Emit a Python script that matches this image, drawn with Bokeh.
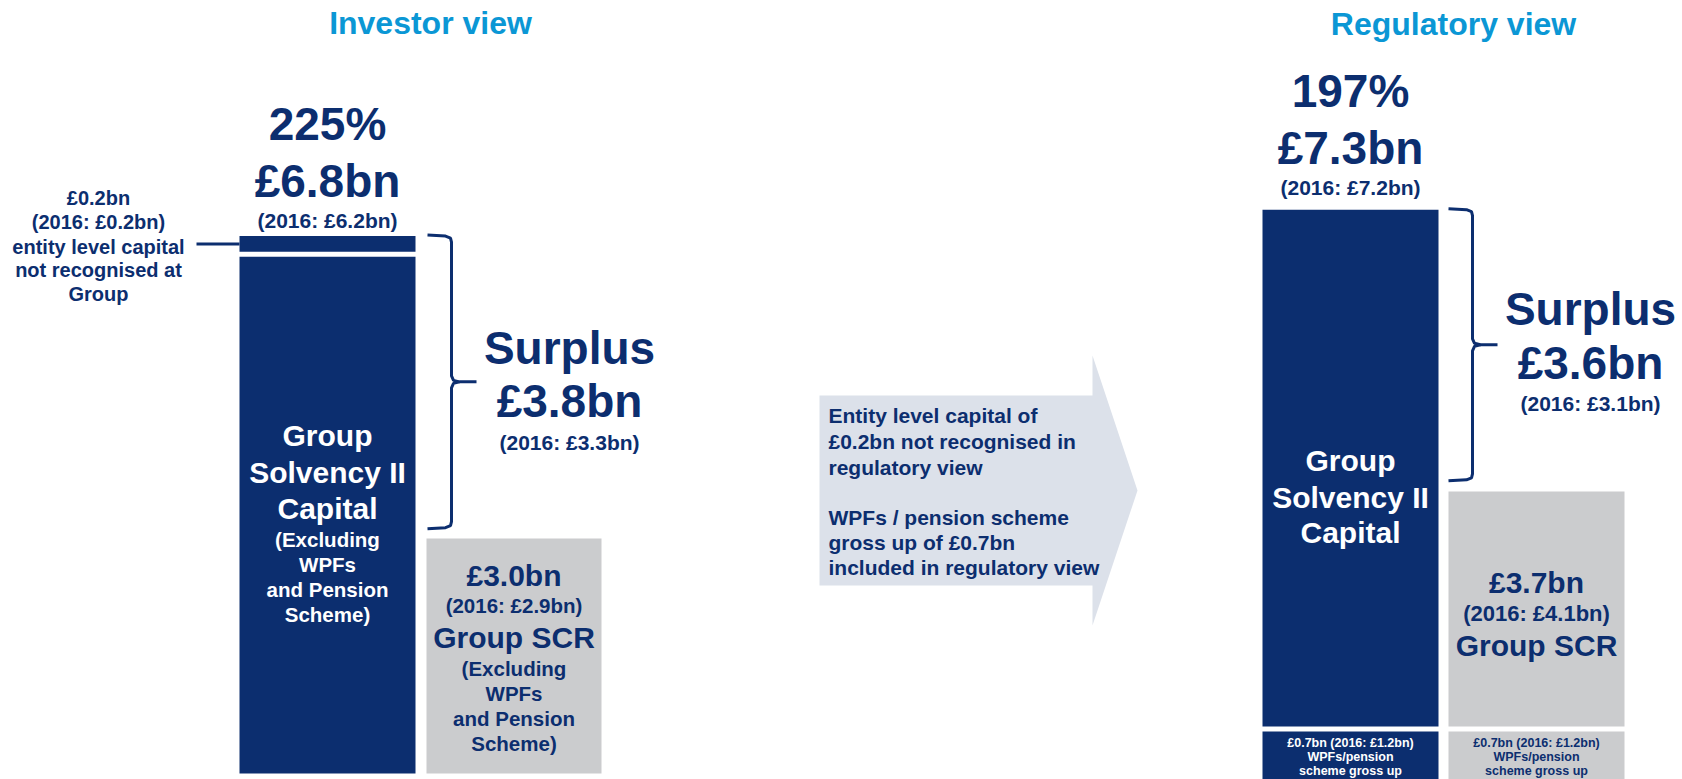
from bokeh.plotting import figure
from bokeh.models import Range1d
from bokeh.embed import file_html
from bokeh.resources import INLINE
from bokeh.core.properties import value

# ---------------- data (GBP bn) ----------------
views = ["Investor view", "Regulatory view"]
ratio_labels = ["225%", "197%"]
own_funds = [6.8, 7.3]
own_funds_2016 = [6.2, 7.2]
surplus = [3.8, 3.6]
surplus_2016 = [3.3, 3.1]
scr = [3.0, 3.7]
scr_2016 = [2.9, 4.1]
entity_capital = 0.2
entity_capital_2016 = 0.2
wpf_grossup = 0.7
wpf_grossup_2016 = 1.2

# ---------------- styling / layout ----------------
NAVY = "#0c2e6f"
GREY = "#cbccce"
BLUE = "#0b97d5"
ARROW = "#dce1ea"
FONT = value("Liberation Sans")
W, H = 1682, 779
PX = 78.3          # pixels per GBP bn
BASE = 773         # screen row of 0 bn for the investor stack
GAP = 5 / PX       # small white gap between stacked blocks


def yv(sy):
    """screen row -> data value (layout helper for annotations)"""
    return (BASE - sy) / PX


p = figure(width=W, height=H, x_range=Range1d(0, W),
           y_range=Range1d(yv(H), yv(0)),
           output_backend="svg", toolbar_location=None,
           x_axis_location=None, y_axis_location=None, min_border=0)
p.grid.visible = False
p.outline_line_color = None
p.background_fill_color = "white"


def txt(x, sy, s, size, color=NAVY, align="center"):
    p.text(x=[x], y=[yv(sy)], text=[s], text_font=FONT, text_font_style="bold",
           text_font_size=size, text_align=align, text_baseline="middle",
           text_color=color)


def brace(xl, xv, xt, top, bot):
    mid = (top + bot) / 2
    r = 6 / PX
    up = [(xl, top + 1 / PX), (xv - 6, top), (xv - 1, top - 2 / PX), (xv, top - r),
          (xv, mid + r), (xv + 2, mid + 1.5 / PX), (xv + 8, mid), (xt, mid)]
    dn = [(xv + 8, mid), (xv + 2, mid - 1.5 / PX), (xv, mid - r), (xv, bot + r),
          (xv - 1, bot + 2 / PX), (xv - 6, bot), (xl, bot - 1 / PX)]
    for seg in (up, dn):
        p.line([a for a, b in seg], [b for a, b in seg], line_color=NAVY, line_width=3)


# ---------------- Investor view ----------------
inv_main = own_funds[0] - entity_capital
ix0, ix1 = 239, 415
sx0, sx1 = 426, 601
p.quad(left=[ix0], right=[ix1], bottom=[0], top=[inv_main], fill_color=NAVY, line_color=None)
p.quad(left=[ix0], right=[ix1], bottom=[inv_main + GAP], top=[own_funds[0] + GAP],
       fill_color=NAVY, line_color=None)
p.quad(left=[sx0], right=[sx1], bottom=[0], top=[scr[0]], fill_color=GREY, line_color=None)
inv_top = own_funds[0] + GAP
brace(427, 451, 476, inv_top, scr[0] + 0.14)

# connector to the entity level capital block
y_ent = inv_main + GAP + entity_capital / 2
p.line([196, ix0], [y_ent, y_ent], line_color=NAVY, line_width=3)

cx = (ix0 + ix1) / 2
txt(430, 22, views[0], "32px", BLUE)
txt(cx, 123, ratio_labels[0], "46px")
txt(cx, 180, f"£{own_funds[0]:.1f}bn", "46px")
txt(cx, 220, f"(2016: £{own_funds_2016[0]:.1f}bn)", "21px")

left_lines = [f"£{entity_capital:.1f}bn", f"(2016: £{entity_capital_2016:.1f}bn)",
              "entity level capital", "not recognised at", "Group"]
for s, sy in zip(left_lines, [197, 221, 246, 269, 293]):
    txt(98, sy, s, "20px")

txt(569, 347, "Surplus", "46px")
txt(569, 400, f"£{surplus[0]:.1f}bn", "46px")
txt(569, 442, f"(2016: £{surplus_2016[0]:.1f}bn)", "21px")

for s, sy, fs in [("Group", 435, "30px"), ("Solvency II", 472, "30px"), ("Capital", 508, "30px"),
                  ("(Excluding", 539, "20.5px"), ("WPFs", 564, "20.5px"),
                  ("and Pension", 589, "20.5px"), ("Scheme)", 614, "20.5px")]:
    txt(cx, sy, s, fs, "white")

scx = (sx0 + sx1) / 2
for s, sy, fs in [(f"£{scr[0]:.1f}bn", 575, "30px"), (f"(2016: £{scr_2016[0]:.1f}bn)", 605, "20.5px"),
                  ("Group SCR", 637, "30px"), ("(Excluding", 668, "20.5px"), ("WPFs", 693, "20.5px"),
                  ("and Pension", 718, "20.5px"), ("Scheme)", 743, "20.5px")]:
    txt(scx, sy, s, fs)

# ---------------- arrow ----------------
ax = [819, 1092, 1092, 1137, 1092, 1092, 819]
ay = [395, 395, 355, 490, 625, 585, 585]
p.patch(ax, [yv(v) for v in ay], fill_color=ARROW, line_color=None)
arrow_lines = ["Entity level capital of", f"£{entity_capital:.1f}bn not recognised in",
               "regulatory view", "WPFs / pension scheme", f"gross up of £{wpf_grossup:.1f}bn",
               "included in regulatory view"]
for s, sy in zip(arrow_lines, [415, 441, 467, 517, 542, 567]):
    txt(828, sy, s, "21px", NAVY, "left")

# ---------------- Regulatory view ----------------
reg_base = yv(726) - wpf_grossup - GAP
rx0, rx1 = 1262, 1438
gx0, gx1 = 1448, 1624
reg_bot = reg_base + wpf_grossup + GAP
p.quad(left=[rx0, gx0], right=[rx1, gx1], bottom=[reg_base] * 2,
       top=[reg_base + wpf_grossup] * 2, fill_color=[NAVY, GREY], line_color=None)
p.quad(left=[rx0], right=[rx1], bottom=[reg_bot], top=[reg_bot + own_funds[1] - wpf_grossup],
       fill_color=NAVY, line_color=None)
p.quad(left=[gx0], right=[gx1], bottom=[reg_bot], top=[reg_bot + scr[1] - wpf_grossup],
       fill_color=GREY, line_color=None)
reg_top = reg_bot + own_funds[1] - wpf_grossup
brace(1448, 1472, 1497, reg_top, reg_bot + scr[1] - wpf_grossup + 0.15)

rcx = (rx0 + rx1) / 2
gcx = (gx0 + gx1) / 2
txt(1453, 23, views[1], "32px", BLUE)
txt(rcx, 90, ratio_labels[1], "46px")
txt(rcx, 147, f"£{own_funds[1]:.1f}bn", "46px")
txt(rcx, 187, f"(2016: £{own_funds_2016[1]:.1f}bn)", "21px")

txt(1590, 308, "Surplus", "46px")
txt(1590, 362, f"£{surplus[1]:.1f}bn", "46px")
txt(1590, 403, f"(2016: £{surplus_2016[1]:.1f}bn)", "21px")

for s, sy in [("Group", 460), ("Solvency II", 497), ("Capital", 532)]:
    txt(rcx, sy, s, "30px", "white")

txt(gcx, 582, f"£{scr[1]:.1f}bn", "30px")
txt(gcx, 613, f"(2016: £{scr_2016[1]:.1f}bn)", "22px")
txt(gcx, 645, "Group SCR", "30px")

wpf_lines = [f"£{wpf_grossup:.1f}bn (2016: £{wpf_grossup_2016:.1f}bn)", "WPFs/pension", "scheme gross up"]
for (x, col) in [(rcx, "white"), (gcx, NAVY)]:
    for s, sy in zip(wpf_lines, [742, 756, 770]):
        txt(x, sy, s, "12.5px", col)

open("out.html", "w").write(file_html(p, INLINE))
